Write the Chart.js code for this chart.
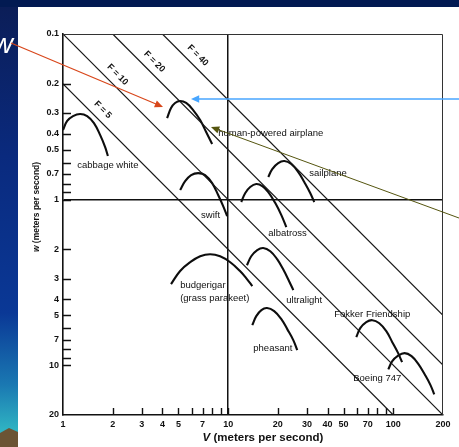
<!DOCTYPE html>
<html>
<head>
<meta charset="utf-8">
<script src="https://cdn.jsdelivr.net/npm/chart.js@4.4.1/dist/chart.umd.min.js"></script>
<style>
  html, body { margin: 0; padding: 0; background: #fff; }
  #wrap { width: 459px; height: 447px; }
</style>
</head>
<body>
<div id="wrap"><canvas id="glide" width="459" height="447"></canvas></div>
<script>
const FONT = '"Liberation Sans", Arial, sans-serif';

// axis ticks (log scales), labels only on some of them
const xTicks = [1, 2, 3, 4, 5, 6, 7, 8, 9, 10, 20, 30, 40, 50, 60, 70, 80, 90, 100, 200];
const xLabels = [1, 2, 3, 4, 5, 7, 10, 20, 30, 40, 50, 70, 100, 200];
const yTicks = [0.1, 0.2, 0.3, 0.4, 0.5, 0.6, 0.7, 0.8, 0.9, 1, 2, 3, 4, 5, 6, 7, 8, 9, 10, 20];
const yLabels = [0.1, 0.2, 0.3, 0.4, 0.5, 0.7, 1, 2, 3, 4, 5, 7, 10, 20];

// lines of constant glide ratio F = V / w  ([V, w] at each end)
const glideRatios = [5, 10, 20, 40];
const glideStart = [[1, 0.2], [1, 0.1], [2, 0.1], [4, 0.1]];
const glideEnd = [[100, 20], [200, 20], [200, 10], [200, 5]];
const glideLabelV = [1.58, 1.94, 3.24, 5.94];

// glide polars, [V, w]
const cabbageWhite = [[1.0, 0.38], [1.06, 0.335], [1.15, 0.313], [1.27, 0.304], [1.4, 0.313], [1.54, 0.345], [1.68, 0.408], [1.8, 0.482], [1.87, 0.546]];
const humanPowered = [[4.27, 0.322], [4.51, 0.28], [4.77, 0.261], [5.12, 0.254], [5.57, 0.261], [6.14, 0.288], [6.77, 0.331], [7.36, 0.391], [8.0, 0.462]];
const swift = [[5.12, 0.876], [5.49, 0.773], [5.97, 0.711], [6.58, 0.692], [7.25, 0.711], [8.0, 0.795], [8.7, 0.939], [9.33, 1.095], [9.86, 1.258]];
const sailplane = [[17.5, 0.731], [18.5, 0.654], [20.1, 0.602], [21.9, 0.585], [24.1, 0.61], [26.6, 0.682], [28.9, 0.784], [31.4, 0.913], [33.2, 1.035]];
const albatross = [[12.0, 1.035], [12.7, 0.913], [13.6, 0.84], [14.8, 0.806], [16.1, 0.829], [17.5, 0.901], [19.3, 1.05], [21.0, 1.241], [22.5, 1.466]];
const budgerigar = [[4.51, 3.24], [5.12, 2.70], [5.89, 2.39], [6.77, 2.20], [7.78, 2.14], [8.94, 2.20], [10.3, 2.39], [11.8, 2.70], [13.0, 3.02], [14.0, 3.33]];
const ultralight = [[13.0, 2.49], [13.8, 2.20], [15.0, 2.02], [16.3, 1.96], [18.0, 2.05], [19.8, 2.29], [21.5, 2.63], [23.4, 3.11], [24.8, 3.52]];
const pheasant = [[14.0, 5.73], [14.8, 5.06], [15.9, 4.65], [17.2, 4.52], [19.0, 4.72], [21.0, 5.27], [22.8, 6.06], [24.8, 7.06], [26.2, 8.12]];
const fokker = [[59.7, 6.77], [63.1, 5.98], [68.6, 5.5], [74.6, 5.35], [82.3, 5.58], [90.7, 6.23], [98.6, 7.26], [107, 8.46], [113, 9.59]];
const boeing747 = [[93.3, 10.6], [98.6, 9.46], [106, 8.82], [117, 8.46], [129, 8.82], [142, 9.86], [156, 11.5], [168, 13.2], [177, 15.0]];

const polars = [cabbageWhite, humanPowered, swift, sailplane, albatross, budgerigar, ultralight, pheasant, fokker, boeing747];

// text next to the polars: [text, V, w] (left edge, middle)
const curveLabels = [
  ['cabbage white', 1.22, 0.619],
  ['human-powered airplane', 8.7, 0.397],
  ['sailplane', 31.0, 0.692],
  ['swift', 6.86, 1.241],
  ['albatross', 17.5, 1.594],
  ['budgerigar', 5.12, 3.29],
  ['(grass parakeet)', 5.12, 3.94],
  ['ultralight', 22.5, 4.05],
  ['pheasant', 14.2, 7.89],
  ['Fokker Friendship', 43.9, 4.92],
  ['Boeing 747', 57.2, 11.98]
];

const toPts = arr => arr.map(p => ({ x: p[0], y: p[1] }));

const datasets = [];
glideRatios.forEach((f, i) => {
  datasets.push({
    label: 'F = ' + f,
    data: toPts([glideStart[i], glideEnd[i]]),
    showLine: true, borderColor: '#161616', borderWidth: 1.2, pointRadius: 0
  });
});
polars.forEach(p => {
  datasets.push({
    data: toPts(p),
    showLine: true, borderColor: '#0d0d0d', borderWidth: 2.1, pointRadius: 0, tension: 0.4
  });
});

function arrow(ctx, x1, y1, x2, y2, color, width, head) {
  const ang = Math.atan2(y2 - y1, x2 - x1);
  ctx.strokeStyle = color;
  ctx.fillStyle = color;
  ctx.lineWidth = width;
  ctx.beginPath();
  ctx.moveTo(x1, y1);
  ctx.lineTo(x2 - Math.cos(ang) * head * 0.7, y2 - Math.sin(ang) * head * 0.7);
  ctx.stroke();
  ctx.beginPath();
  ctx.moveTo(x2, y2);
  ctx.lineTo(x2 - head * Math.cos(ang - 0.42), y2 - head * Math.sin(ang - 0.42));
  ctx.lineTo(x2 - head * Math.cos(ang + 0.42), y2 - head * Math.sin(ang + 0.42));
  ctx.closePath();
  ctx.fill();
}

// italic first letter, then the rest upright, centred at (cx, cy)
function axisTitle(ctx, first, rest, cx, cy, rot, size) {
  ctx.save();
  ctx.translate(cx, cy);
  ctx.rotate(rot);
  const fi = 'italic bold ' + size + 'px ' + FONT;
  const fr = 'bold ' + size + 'px ' + FONT;
  ctx.font = fi; const w1 = ctx.measureText(first).width;
  ctx.font = fr; const w2 = ctx.measureText(rest).width;
  const x0 = -(w1 + w2) / 2;
  ctx.fillStyle = '#111';
  ctx.textBaseline = 'middle';
  ctx.textAlign = 'left';
  ctx.font = fi; ctx.fillText(first, x0, 0);
  ctx.font = fr; ctx.fillText(rest, x0 + w1, 0);
  ctx.restore();
}

const slide = {
  id: 'slide',
  beforeDraw(chart) {
    const ctx = chart.ctx;
    const W = chart.width, H = chart.height;
    ctx.save();
    const g = ctx.createLinearGradient(0, 0, 0, H);
    g.addColorStop(0, '#0b1d56');
    g.addColorStop(0.35, '#0a2a7e');
    g.addColorStop(0.7, '#0a3896');
    g.addColorStop(0.86, '#1a78b2');
    g.addColorStop(0.96, '#2fb2c2');
    g.addColorStop(1, '#2fb2c2');
    ctx.fillStyle = g;
    ctx.fillRect(0, 0, W, H);
    ctx.fillStyle = '#021a52';
    ctx.fillRect(0, 0, W, 7);
    // bit of landscape bottom left
    ctx.fillStyle = '#6b5434';
    ctx.beginPath();
    ctx.moveTo(0, 433); ctx.lineTo(9, 428); ctx.lineTo(18, 432); ctx.lineTo(18, H); ctx.lineTo(0, H);
    ctx.closePath(); ctx.fill();
    ctx.fillStyle = '#ffffff';
    ctx.fillRect(18, 7, W - 18, H - 7);
    ctx.restore();
  },
  afterDatasetsDraw(chart) {
    const { ctx, chartArea: a, scales: { x, y } } = chart;
    ctx.save();
    // inward tick marks
    ctx.strokeStyle = '#111';
    ctx.lineWidth = 1.4;
    ctx.beginPath();
    xTicks.forEach(v => {
      if (v <= 1 || v >= 200) return;
      const px = Math.round(x.getPixelForValue(v)) + 0.5;
      ctx.moveTo(px, a.bottom); ctx.lineTo(px, a.bottom - 7);
    });
    yTicks.forEach(v => {
      if (v <= 0.1 || v >= 20) return;
      const py = Math.round(y.getPixelForValue(v)) + 0.5;
      ctx.moveTo(a.left, py); ctx.lineTo(a.left + 8, py);
    });
    ctx.stroke();
    // thin frame top and right
    ctx.strokeStyle = '#333';
    ctx.lineWidth = 1;
    ctx.beginPath();
    ctx.moveTo(a.left, a.top + 0.5); ctx.lineTo(a.right - 0.5, a.top + 0.5); ctx.lineTo(a.right - 0.5, a.bottom);
    ctx.stroke();

    // F labels along the diagonals
    ctx.fillStyle = '#111';
    ctx.font = 'bold 9px ' + FONT;
    ctx.textAlign = 'center';
    ctx.textBaseline = 'middle';
    glideRatios.forEach((f, i) => {
      const v = glideLabelV[i];
      const px = x.getPixelForValue(v), py = y.getPixelForValue(v / f);
      ctx.save();
      ctx.translate(px + 7, py - 7);
      ctx.rotate(Math.PI / 4);
      ctx.fillText('F = ' + f, 0, 0);
      ctx.restore();
    });

    // names of the fliers
    ctx.font = '9.5px ' + FONT;
    ctx.textAlign = 'left';
    curveLabels.forEach(l => {
      ctx.fillText(l[0], x.getPixelForValue(l[1]), y.getPixelForValue(l[2]));
    });

    axisTitle(ctx, 'w', ' (meters per second)', 37, 207, -Math.PI / 2, 8.5);
    axisTitle(ctx, 'V', ' (meters per second)', 263, 438, 0, 11.5);
    ctx.restore();
  },
  afterDraw(chart) {
    const ctx = chart.ctx;
    ctx.save();
    ctx.fillStyle = '#ffffff';
    ctx.font = 'italic 28px ' + FONT;
    ctx.textAlign = 'right';
    ctx.textBaseline = 'alphabetic';
    ctx.fillText('w', 13, 53);
    arrow(ctx, 11, 43, 163, 107, '#d8461a', 1.2, 9);
    arrow(ctx, 459, 99, 191, 99, '#48a6ff', 1.6, 9);
    arrow(ctx, 459, 218, 211, 127, '#55550f', 1, 9);
    ctx.restore();
  }
};

new Chart(document.getElementById('glide'), {
  type: 'scatter',
  data: { datasets },
  options: {
    responsive: false,
    animation: false,
    events: [],
    layout: { padding: { left: 28, top: 34, right: 16, bottom: 0 } },
    plugins: { legend: { display: false }, tooltip: { enabled: false } },
    scales: {
      x: {
        type: 'logarithmic', min: 1, max: 200,
        afterBuildTicks: s => { s.ticks = xTicks.map(v => ({ value: v })); },
        afterFit: s => { s.height = 32; },
        ticks: {
          autoSkip: false, maxRotation: 0, padding: 4, color: '#111',
          font: { family: FONT, size: 9, weight: 'bold' },
          callback: v => xLabels.includes(v) ? String(v) : ''
        },
        grid: {
          drawTicks: false, lineWidth: 1.5,
          color: c => (c.tick && c.tick.value === 10) ? '#111' : 'rgba(0,0,0,0)'
        },
        border: { display: true, color: '#111', width: 1.6 }
      },
      y: {
        type: 'logarithmic', min: 0.1, max: 20, reverse: true,
        afterBuildTicks: s => { s.ticks = yTicks.map(v => ({ value: v })); },
        afterFit: s => { s.width = 35; },
        ticks: {
          autoSkip: false, padding: 4, color: '#111',
          font: { family: FONT, size: 9, weight: 'bold' },
          callback: v => yLabels.includes(v) ? String(v) : ''
        },
        grid: {
          drawTicks: false, lineWidth: 1.5,
          color: c => (c.tick && c.tick.value === 1) ? '#111' : 'rgba(0,0,0,0)'
        },
        border: { display: true, color: '#111', width: 1.6 }
      }
    }
  },
  plugins: [slide]
});
</script>
</body>
</html>
